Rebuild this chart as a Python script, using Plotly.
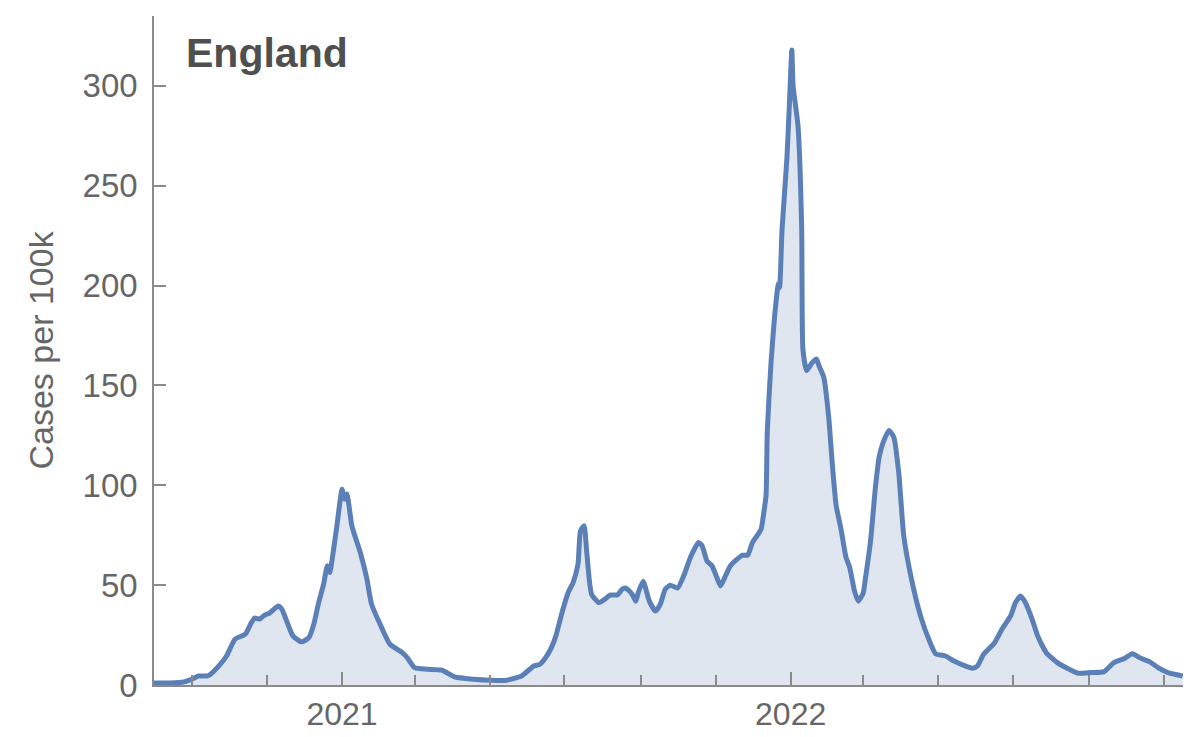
import plotly.graph_objects as go

# Data
dates = [
    "2020-08-01", "2020-08-14", "2020-08-25", "2020-09-01", "2020-09-06", "2020-09-13",
    "2020-09-16", "2020-09-24", "2020-09-29", "2020-10-06", "2020-10-13", "2020-10-15",
    "2020-10-19", "2020-10-22", "2020-10-26", "2020-10-30", "2020-11-03", "2020-11-10",
    "2020-11-13", "2020-11-17", "2020-11-22", "2020-11-29", "2020-12-05", "2020-12-09",
    "2020-12-13", "2020-12-17", "2020-12-20", "2020-12-22", "2020-12-24", "2020-12-28",
    "2021-01-01", "2021-01-03", "2021-01-05", "2021-01-09", "2021-01-16", "2021-01-21",
    "2021-01-25", "2021-02-01", "2021-02-09", "2021-02-19", "2021-02-23", "2021-03-01",
    "2021-03-11", "2021-03-23", "2021-04-03", "2021-04-18", "2021-05-02", "2021-05-15",
    "2021-05-27", "2021-06-06", "2021-06-11", "2021-06-17", "2021-06-21", "2021-06-24",
    "2021-06-29", "2021-07-04", "2021-07-08", "2021-07-12", "2021-07-14", "2021-07-17",
    "2021-07-19", "2021-07-23", "2021-07-29", "2021-08-03", "2021-08-07", "2021-08-13",
    "2021-08-17", "2021-08-20", "2021-08-25", "2021-08-28", "2021-08-30", "2021-09-03",
    "2021-09-08", "2021-09-13", "2021-09-17", "2021-09-21", "2021-09-25", "2021-10-01",
    "2021-10-06", "2021-10-12", "2021-10-18", "2021-10-21", "2021-10-25", "2021-10-29",
    "2021-11-02", "2021-11-05", "2021-11-09", "2021-11-13", "2021-11-19", "2021-11-23",
    "2021-11-27", "2021-12-01", "2021-12-05", "2021-12-08", "2021-12-10", "2021-12-12",
    "2021-12-13", "2021-12-16", "2021-12-19", "2021-12-22", "2021-12-23", "2021-12-25",
    "2021-12-29", "2021-12-31", "2022-01-02", "2022-01-03", "2022-01-07", "2022-01-10",
    "2022-01-11", "2022-01-14", "2022-01-18", "2022-01-22", "2022-01-24", "2022-01-28",
    "2022-02-01", "2022-02-04", "2022-02-07", "2022-02-11", "2022-02-15", "2022-02-18",
    "2022-02-22", "2022-02-25", "2022-03-01", "2022-03-03", "2022-03-07", "2022-03-11",
    "2022-03-14", "2022-03-17", "2022-03-22", "2022-03-26", "2022-03-30", "2022-04-03",
    "2022-04-09", "2022-04-17", "2022-04-24", "2022-04-29", "2022-05-07", "2022-05-14",
    "2022-05-24", "2022-05-29", "2022-06-02", "2022-06-07", "2022-06-16", "2022-06-22",
    "2022-06-29", "2022-07-03", "2022-07-07", "2022-07-11", "2022-07-17", "2022-07-21",
    "2022-07-28", "2022-08-06", "2022-08-14", "2022-08-23", "2022-09-02", "2022-09-13",
    "2022-09-21", "2022-09-30", "2022-10-06", "2022-10-13", "2022-10-20", "2022-10-27",
    "2022-11-04", "2022-11-16",
]
cases = [
    1.0, 1.0, 1.5, 3.0, 4.5, 4.5,
    5.4, 10.4, 14.5, 23.0, 25.0, 26.0,
    31.0, 33.5, 33.0, 35.0, 36.0, 39.6,
    38.0, 32.0, 24.6, 21.6, 23.7, 30.4,
    41.3, 50.5, 59.7, 56.3, 63.0, 80.6,
    98.0, 93.0, 95.6, 79.7, 66.0, 53.8,
    40.5, 30.4, 20.4, 16.2, 13.7, 8.7,
    7.9, 7.5, 4.0, 2.9, 2.4, 2.4,
    4.5, 9.5, 10.4, 15.0, 19.6, 24.6,
    36.3, 46.3, 51.3, 60.5, 77.2, 79.7,
    67.2, 45.5, 41.3, 43.0, 45.0, 45.1,
    48.0, 48.5, 45.5, 42.0, 46.3, 52.0,
    42.0, 37.0, 40.5, 48.0, 50.0, 48.5,
    54.7, 64.7, 71.4, 69.7, 62.0, 59.7,
    53.8, 49.6, 54.7, 59.7, 63.3, 65.0,
    65.0, 71.4, 75.0, 78.0, 85.6, 95.0,
    127.0, 161.0, 185.0, 201.0, 199.0, 228.0,
    264.0, 291.0, 318.0, 300.0, 280.0, 228.0,
    168.0, 157.5, 161.0, 163.3, 160.0, 154.0,
    134.0, 110.0, 90.0, 78.0, 64.0, 59.0,
    47.0, 42.0, 46.0, 54.0, 72.0, 99.0,
    114.0, 121.0, 127.5, 124.0, 106.0, 75.0,
    54.0, 34.0, 22.0, 15.6, 14.5, 12.0,
    9.3, 8.4, 9.5, 15.4, 21.2, 28.0,
    34.6, 41.3, 44.6, 41.3, 32.0, 24.6,
    16.2, 11.2, 8.4, 5.9, 6.2, 6.7,
    11.2, 13.4, 15.7, 13.4, 11.7, 8.7,
    6.2, 4.5,
]

year_tick_dates = ["2021-01-01", "2022-01-01"]
year_tick_labels = ["2021", "2022"]
y_tick_values = [0, 50, 100, 150, 200, 250, 300]

title_text = "England"
y_title_text = "Cases per 100k"

LINE = "#5B80B8"
AXIS = "#8a8a8a"
TXT = "#666666"
FONT = "Liberation Sans, Arial, sans-serif"

# page body has an 8px offset: figure is sized/placed to compensate
W, H = 1192, 729
L, T = 146, 8
PW, PH = 1029, 669
R = W - L - PW
B = H - T - PH

fig = go.Figure()
fig.add_trace(go.Scatter(
    x=dates, y=cases, mode="lines",
    line=dict(color=LINE, width=5, shape="spline", smoothing=0.5),
    fill="tozeroy", fillcolor="rgba(94,129,181,0.2)",
    hoverinfo="x+y", showlegend=False,
))

fig.update_layout(
    width=W, height=H,
    margin=dict(l=L, r=R, t=T, b=B, autoexpand=False),
    paper_bgcolor="white", plot_bgcolor="white",
    font=dict(family=FONT, color=TXT, size=33),
    xaxis=dict(
        range=["2020-08-01", "2022-11-16 06:00"],
        tickvals=year_tick_dates, ticktext=year_tick_labels,
        ticks="inside", ticklen=13, tickwidth=1.5, tickcolor=AXIS,
        showline=True, linecolor=AXIS, linewidth=1.5,
        showgrid=False, zeroline=False, automargin=False,
        tickfont=dict(size=32, color=TXT, family=FONT),
        minor=dict(dtick="M2", tick0="2021-01-01", ticks="inside", ticklen=10,
                   tickwidth=1.5, tickcolor=AXIS, showgrid=False),
    ),
    yaxis=dict(
        range=[0, 335],
        tickvals=y_tick_values,
        ticks="inside", ticklen=12, tickwidth=1.5, tickcolor=AXIS,
        showline=True, linecolor=AXIS, linewidth=1.5,
        showgrid=False, zeroline=False, automargin=False,
        tickfont=dict(size=33, color=TXT, family=FONT),
        ticklabelstandoff=8,
    ),
    annotations=[
        dict(text="<b>" + title_text + "</b>", xref="paper", yref="paper",
             x=(184 - 154) / PW, y=(685 - 53) / PH, xanchor="left", yanchor="middle",
             showarrow=False, font=dict(size=41, color="#4f4f4f", family=FONT)),
        dict(text=y_title_text, xref="paper", yref="paper",
             x=(40 - 154) / PW, y=0.5, xanchor="center", yanchor="middle",
             textangle=-90, showarrow=False,
             font=dict(size=34, color=TXT, family=FONT)),
    ],
)

fig.write_html("out.html")
